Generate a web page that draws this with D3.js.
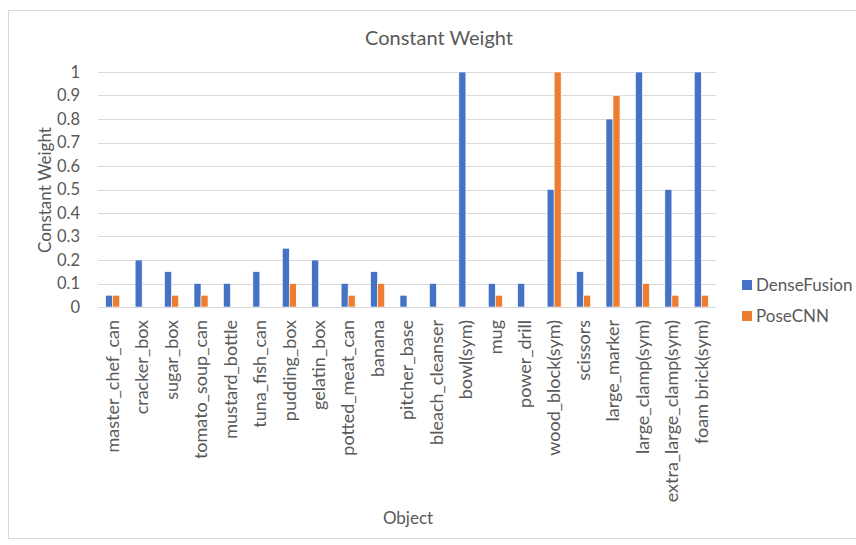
<!DOCTYPE html>
<html>
<head>
<meta charset="utf-8">
<script src="https://cdn.jsdelivr.net/npm/d3@7"></script>
<style>
  html, body { margin: 0; padding: 0; background: #fff; }
  svg { display: block; font-family: Lato, "Open Sans", sans-serif; }
</style>
</head>
<body>
<svg id="chart" width="856" height="545"></svg>
<script>
const categories = [
  "master_chef_can", "cracker_box", "sugar_box", "tomato_soup_can", "mustard_bottle",
  "tuna_fish_can", "pudding_box", "gelatin_box", "potted_meat_can", "banana",
  "pitcher_base", "bleach_cleanser", "bowl(sym)", "mug", "power_drill",
  "wood_block(sym)", "scissors", "large_marker", "large_clamp(sym)",
  "extra_large_clamp(sym)", "foam brick(sym)"
];
const denseFusion = [0.05, 0.2, 0.15, 0.1, 0.1, 0.15, 0.25, 0.2, 0.1, 0.15, 0.05, 0.1, 1, 0.1, 0.1, 0.5, 0.15, 0.8, 1, 0.5, 1];
const poseCNN     = [0.05, 0, 0.05, 0.05, 0, 0, 0.1, 0, 0.05, 0.1, 0, 0, 0, 0.05, 0, 1, 0.05, 0.9, 0.1, 0.05, 0.05];
const seriesNames = ["DenseFusion", "PoseCNN"];
const seriesColors = ["#4472C4", "#ED7D31"];
const yTicks = [0, 0.1, 0.2, 0.3, 0.4, 0.5, 0.6, 0.7, 0.8, 0.9, 1];

const svg = d3.select("#chart");
const textColor = "#595959";
const font = "Lato, 'Open Sans', sans-serif";

// chart frame
svg.append("rect")
  .attr("x", 8.5).attr("y", 10.5).attr("width", 860).attr("height", 528)
  .attr("fill", "#fff").attr("stroke", "#d9d9d9");

const plot = { left: 98, right: 716, top: 72, bottom: 307 };

const x = d3.scaleBand().domain(categories).range([plot.left, plot.right]).paddingInner(0).paddingOuter(0);
const y = d3.scaleLinear().domain([0, 1]).range([plot.bottom, plot.top]);
const x1 = d3.scaleBand().domain(seriesNames).range([0, 14]);
const barOffset = (x.bandwidth() - 14) / 2;

// gridlines
svg.append("g").selectAll("line").data(yTicks).join("line")
  .attr("x1", plot.left).attr("x2", plot.right)
  .attr("y1", d => Math.round(y(d)) + 0.5).attr("y2", d => Math.round(y(d)) + 0.5)
  .attr("stroke", "#d9d9d9").attr("stroke-width", 1);

// y axis labels
const yAxis = d3.axisLeft(y).tickValues(yTicks).tickSize(0).tickPadding(0).tickFormat(d3.format("~g"));
const gy = svg.append("g").attr("transform", `translate(80,0)`).call(yAxis);
gy.select(".domain").remove();
gy.selectAll("text").attr("fill", textColor).attr("font-size", 16.5).attr("font-family", font);

// bars
const data = categories.map((c, i) => ({ c, vals: [denseFusion[i], poseCNN[i]] }));
const groups = svg.append("g").selectAll("g").data(data).join("g")
  .attr("transform", d => `translate(${x(d.c) + barOffset},0)`);
groups.selectAll("rect").data(d => d.vals.map((v, k) => ({ v, k })))
  .join("rect")
  .attr("x", d => x1(seriesNames[d.k]))
  .attr("width", x1.bandwidth())
  .attr("y", d => y(d.v))
  .attr("height", d => y(0) - y(d.v))
  .attr("fill", d => seriesColors[d.k])
  .attr("stroke", "#fff").attr("stroke-width", 0.6);

// x axis line
svg.append("line")
  .attr("x1", plot.left).attr("x2", plot.right)
  .attr("y1", plot.bottom + 0.5).attr("y2", plot.bottom + 0.5)
  .attr("stroke", "#d9d9d9");

// x axis category labels (rotated)
const xAxis = d3.axisBottom(x).tickSize(0).tickPadding(0);
const gx = svg.append("g").attr("transform", `translate(0,${plot.bottom})`).call(xAxis);
gx.select(".domain").remove();
gx.selectAll("text")
  .attr("fill", textColor).attr("font-size", 18).attr("font-family", font)
  .attr("text-anchor", "end")
  .attr("dy", "0.35em")
  .attr("transform", "translate(0,13) rotate(-90)")
  .attr("y", 0).attr("x", 0);

// title
svg.append("text").attr("x", 439).attr("y", 45).attr("text-anchor", "middle")
  .attr("font-size", 20).attr("fill", textColor).text("Constant Weight");

// axis titles
svg.append("text").attr("transform", "translate(51,190) rotate(-90)")
  .attr("text-anchor", "middle").attr("font-size", 17).attr("fill", textColor).text("Constant Weight");
svg.append("text").attr("x", 408).attr("y", 524).attr("text-anchor", "middle")
  .attr("font-size", 17).attr("fill", textColor).text("Object");

// legend
const legend = svg.append("g").selectAll("g").data(seriesNames).join("g")
  .attr("transform", (d, i) => `translate(742,${285 + i * 31})`);
legend.append("rect").attr("x", 0).attr("y", -5).attr("width", 10).attr("height", 10)
  .attr("fill", (d, i) => seriesColors[i]);
legend.append("text").attr("x", 14).attr("y", 0).attr("dy", "0.35em")
  .attr("font-size", 17).attr("fill", textColor).text(d => d);
</script>
</body>
</html>
